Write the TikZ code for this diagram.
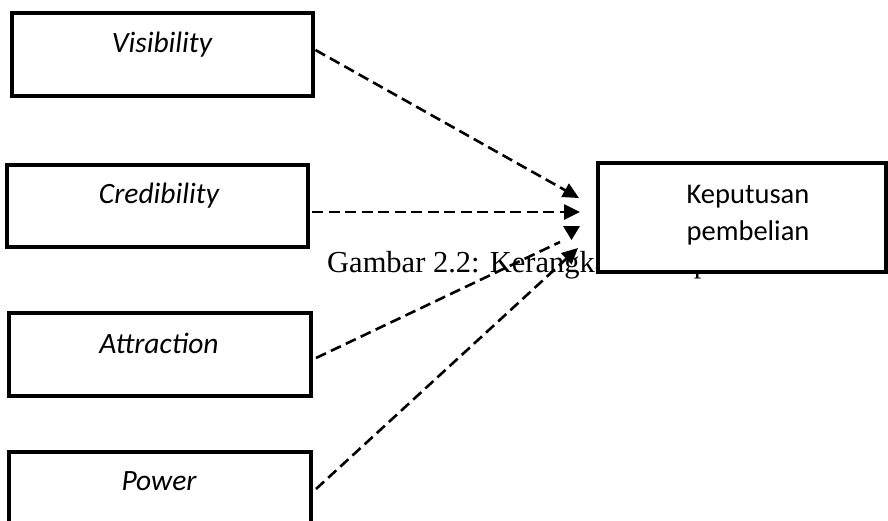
\documentclass[tikz,border=0pt]{standalone}
\usepackage{fontspec}
\setmainfont{Liberation Serif}
\newfontfamily\calibri{Carlito}
\usetikzlibrary{arrows.meta,calc}
\begin{document}
\begin{tikzpicture}[x=1pt,y=-1pt,
 boxnode/.style={draw=black,line width=3.05pt,fill=white,rectangle,inner sep=0pt,outer sep=0pt},
 lbl/.style={anchor=base,font=\calibri\itshape\fontsize{29.5}{35}\selectfont,inner sep=0pt},
 lblup/.style={anchor=base,font=\calibri\fontsize{28.5}{34}\selectfont,inner sep=0pt},
 conn/.style={line width=2.6pt,dash pattern=on 11pt off 5.5pt},
 tipped/.style={-{Triangle[length=16pt,width=15pt]}}]
\useasboundingbox (0,0) rectangle (888,520);

% caption (partly hidden behind the right box)
\node[anchor=base west,inner sep=0pt,font=\fontsize{30.5}{36}\selectfont] (cap) at (327,272) {Gambar 2.2: Kerangka Konseptual};

% left boxes
\node[boxnode,minimum width=301pt,minimum height=83pt] (vis) at (162.5,54.5) {};
\node[boxnode,minimum width=301pt,minimum height=82pt] (cred) at (157.5,206) {};
\node[boxnode,minimum width=302pt,minimum height=83pt] (att) at (160,354.5) {};
\node[boxnode,minimum width=302pt,minimum height=83pt] (pow) at (160,493.5) {};

\node[lbl] (visT) at (162,52) {Visibility};
\node[lbl] (credT) at (159,203) {Credibility};
\node[lbl] (attT) at (159,353) {Attraction};
\node[lbl] (powT) at (159,490) {Power};

% arrow end points
\coordinate (t1) at (579,198);
\coordinate (t2) at (580,212);
\coordinate (e3) at (560,242);
\coordinate (t4) at (578,248);

\draw[conn,tipped] ($(vis.east)+(2.5,-4.5)$) -- (t1);
\draw[conn,tipped] ($(cred.east)+(4,6)$) -- (t2);
\draw[conn] ($(att.east)+(5,3.5)$) -- (e3);
\fill (563,226) -- (580,226) -- (571.5,240) -- cycle;
\draw[conn,tipped] ($(pow.east)+(5,-4.5)$) -- (t4);

% right box
\node[boxnode,minimum width=288pt,minimum height=109pt] (kep) at (742,217.5) {};
\node[lblup] (kepT1) at (748,203) {Keputusan};
\node[lblup] (kepT2) at (748,240) {pembelian};
\end{tikzpicture}
\end{document}
